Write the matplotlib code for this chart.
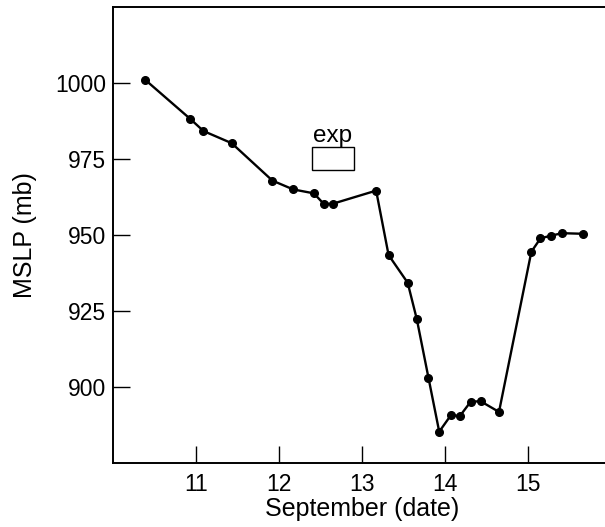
import matplotlib
matplotlib.use("Agg")
import matplotlib.pyplot as plt
from matplotlib.patches import Rectangle

plt.rcParams['font.family'] = ['Liberation Sans', 'DejaVu Sans']

dates = [10.39, 10.93, 11.09, 11.43, 11.92, 12.17, 12.42, 12.54, 12.65, 13.17,
         13.32, 13.55, 13.66, 13.80, 13.93, 14.07, 14.18, 14.31, 14.43, 14.65,
         15.04, 15.15, 15.28, 15.41, 15.66]
mslp = [1001.0, 988.2, 984.2, 980.2, 967.9, 965.0, 963.7, 960.2, 960.3, 964.6,
        943.4, 934.3, 922.3, 903.1, 885.3, 890.7, 890.5, 895.2, 895.3, 891.8,
        944.5, 948.9, 949.8, 950.6, 950.4]
xticks = [11, 12, 13, 14, 15]
yticks = [900, 925, 950, 975, 1000]

fig = plt.figure(figsize=(6.05, 5.27), dpi=100)
ax = fig.add_axes([113/605, 64/527, 1 - 113/605 + 0.01, (463-7)/527])

ax.plot(dates, mslp, color='black', lw=1.7, marker='o', ms=5.5,
        markerfacecolor='black', markeredgecolor='black')

ax.set_xlim(10, 16)
ax.set_ylim(875, 1025)
ax.set_xticks(xticks)
ax.set_yticks(yticks)
ax.tick_params(axis='both', direction='in', length=12, width=1.0,
               labelsize=16.5, pad=5)
ax.tick_params(axis='x', pad=7)
ax.spines['right'].set_visible(False)
for s in ['left', 'bottom', 'top']:
    ax.spines[s].set_linewidth(1.4)

ax.set_xlabel('September (date)', fontsize=18, labelpad=1)
ax.set_ylabel('MSLP (mb)', fontsize=18, labelpad=13)

# legend-like box
ax.text(12.65, 979.0, 'exp', ha='center', va='bottom', fontsize=17.5)
ax.add_patch(Rectangle((12.40, 971.4), 0.50, 7.6, fill=False,
                       edgecolor='black', lw=1.0))

fig.savefig('out.png', dpi=100)
